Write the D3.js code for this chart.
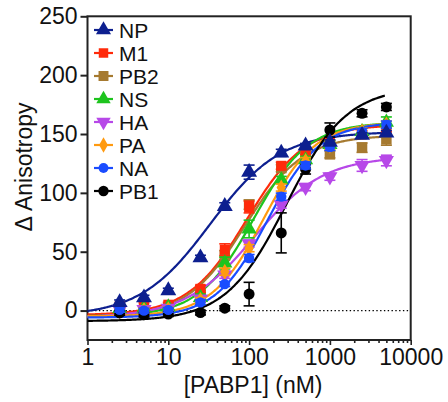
<!DOCTYPE html>
<html>
<head>
<meta charset="utf-8">
<script src="https://cdn.jsdelivr.net/npm/d3@7"></script>
<style>
  html, body { margin: 0; padding: 0; background: #fff; }
  svg { display: block; }
  text { font-family: "Liberation Sans", Arial, Helvetica, sans-serif; fill: #111; }
</style>
</head>
<body>
<svg id="chart" width="448" height="402"></svg>
<script>
// PABP1 titration (nM) and measured change in anisotropy for each RNA segment
const conc = [2.5, 5, 10, 25, 50, 100, 250, 500, 1000, 2500, 5000];

const seriesNames = ["NP", "M1", "PB2", "NS", "HA", "PA", "NA", "PB1"];

const valNP  = [7, 11, 17, 45, 88.6, 117.6, 134, 140, 143, 149, 151];
const valM1  = [3.5, 4.5, 5, 18.5, 51.7, 88, 123, 135.5, 142.6, 149.7, 155];
const valPB2 = [1, 1, 2, 14, 47, 90, 121, 131, 132.7, 138.4, 145.5];
const valNS  = [1.5, 2, 3, 11, 40.4, 69.3, 111, 128, 141, 152, 160];
const valHA  = [0.5, 1, 2, 10, 30.4, 56.8, 90, 104.8, 113.7, 123.3, 127.5];
const valPA  = [0, 0.5, 1, 9, 33, 53, 104.5, 127, 140, 152, 158];
const valNA  = [0.6, 0, 0.6, 7, 22.5, 44.6, 96.8, 123.3, 139, 151.7, 158];
const valPB1 = [-2, -3.5, -3, -1.7, 2, 14, 66, 120, 153.4, 167.6, 173];

// standard deviations
const errNP  = [2, 2, 2, 2, 3, 6, 3, 2, 2, 2, 2];
const errM1  = [2, 2, 2, 3, 5, 5, 3, 3, 2, 3, 3];
const errPB2 = [2, 2, 2, 3, 4, 4, 3, 3, 3, 4, 5];
const errNS  = [2, 2, 2, 3, 5, 7.5, 3, 3, 3, 3, 4.5];
const errHA  = [2, 2, 2, 2, 3, 3, 3, 3, 3, 5, 4.5];
const errPA  = [2, 2, 2, 2, 3, 3, 3, 3, 3, 3, 3];
const errNA  = [2, 2, 2, 2, 2, 3, 3, 3, 3, 3, 3];
const errPB1 = [2, 2, 2, 2, 2, 10, 17, 4, 6, 3, 3];

// four-parameter logistic fit: bottom, top, EC50 (nM), Hill slope
const fitBottom = [-5, -4, -6, -5, -6, -5, -6, -9];
const fitTop    = [152, 158, 149, 160, 131, 160, 160, 190];
const fitEC50   = [33, 93, 88, 113, 116, 150, 170, 290];
const fitHill   = [1.0, 1.2, 1.2, 1.28, 1.02, 1.35, 1.35, 1.16];

const xTicks = [1, 10, 100, 1000, 10000];
const yTicks = [0, 50, 100, 150, 200, 250];

const colors = {
  NP: "#0d1f8f", M1: "#ff2a0a", PB2: "#a67a30", NS: "#1ec41e",
  HA: "#b748e8", PA: "#ff9a10", NA: "#1a4cff", PB1: "#000000"
};
const shapes = {
  NP:  { type: d3.symbolTriangle, size: 110, rot: 0 },
  M1:  { type: d3.symbolSquare,   size: 100, rot: 0 },
  PB2: { type: d3.symbolSquare,   size: 110, rot: 0 },
  NS:  { type: d3.symbolTriangle, size: 100, rot: 0 },
  HA:  { type: d3.symbolTriangle, size: 100, rot: 180 },
  PA:  { type: d3.symbolDiamond,  size: 75,  rot: 0 },
  NA:  { type: d3.symbolCircle,   size: 85,  rot: 0 },
  PB1: { type: d3.symbolCircle,   size: 95,  rot: 0 }
};

const values = [valNP, valM1, valPB2, valNS, valHA, valPA, valNA, valPB1];
const errors = [errNP, errM1, errPB2, errNS, errHA, errPA, errNA, errPB1];

const series = seriesNames.map((name, i) => ({
  name,
  points: conc.map((c, j) => ({ x: c, y: values[i][j], e: errors[i][j] })),
  fit: { b: fitBottom[i], t: fitTop[i], ec: fitEC50[i], h: fitHill[i] }
}));

const svg = d3.select("#chart");
const plot = { left: 87.5, right: 410.7, top: 16.3, bottom: 340 };

const x = d3.scaleLog().domain([1, 10000]).range([plot.left, plot.right]);
const y = d3.scaleLinear().domain([-25, 250]).range([plot.bottom, plot.top]);

const axisColor = "#222";

// frame
svg.append("rect")
  .attr("x", plot.left).attr("y", plot.top)
  .attr("width", plot.right - plot.left).attr("height", plot.bottom - plot.top)
  .attr("fill", "none").attr("stroke", axisColor).attr("stroke-width", 2);

// zero baseline
svg.append("line")
  .attr("x1", plot.left).attr("x2", plot.right)
  .attr("y1", y(0)).attr("y2", y(0))
  .attr("stroke", "#000").attr("stroke-width", 1.3)
  .attr("stroke-dasharray", "1.4,2.4");

// x axis with log minor ticks
const minor = [];
for (let d = 1; d < 10000; d *= 10) for (let k = 2; k <= 9; k++) minor.push(d * k);

const gx = svg.append("g").attr("transform", `translate(0,${plot.bottom})`);
gx.call(d3.axisBottom(x).tickValues(minor).tickSize(3).tickFormat(""));
gx.append("g").call(d3.axisBottom(x).tickValues(xTicks).tickSize(5).tickPadding(4)
  .tickFormat(d3.format("d")));
gx.selectAll(".domain").remove();
gx.selectAll("line").attr("stroke", axisColor).attr("stroke-width", 1.6);
gx.selectAll("text").attr("font-size", 23).attr("fill", "#111")
  .attr("font-family", "'Liberation Sans', Arial, sans-serif");

// y axis
const gy = svg.append("g").attr("transform", `translate(${plot.left},0)`);
gy.call(d3.axisLeft(y).tickValues(yTicks).tickSize(7).tickPadding(3));
gy.selectAll(".domain").remove();
gy.selectAll("line").attr("stroke", axisColor).attr("stroke-width", 2);
gy.selectAll("text").attr("font-size", 23).attr("fill", "#111")
  .attr("font-family", "'Liberation Sans', Arial, sans-serif");

// axis titles
svg.append("text")
  .attr("x", (plot.left + plot.right) / 2 + 4).attr("y", 393)
  .attr("text-anchor", "middle").attr("font-size", 23)
  .text("[PABP1] (nM)");
svg.append("text")
  .attr("transform", `translate(31.5,${167}) rotate(-90)`)
  .attr("text-anchor", "middle").attr("font-size", 23)
  .text("Δ Anisotropy");

// fitted curves
const logistic = (f, c) => f.b + (f.t - f.b) / (1 + Math.pow(f.ec / c, f.h));
const curveX = d3.range(0, 3.699 + 1e-9, 0.02).map(l => Math.pow(10, l));
const line = d3.line().x(d => x(d.x)).y(d => y(d.y)).curve(d3.curveMonotoneX);

svg.append("g").selectAll("path").data(series).join("path")
  .attr("d", s => line(curveX.map(c => ({ x: c, y: logistic(s.fit, c) }))))
  .attr("fill", "none")
  .attr("stroke", s => colors[s.name])
  .attr("stroke-width", 2.2);

// data points with error bars, later series on top
const drawOrder = ["PB2", "M1", "NS", "HA", "PA", "PB1", "NA", "NP"];
const capW = 5.5;
drawOrder.forEach(name => {
  const s = series.find(d => d.name === name);
  const g = svg.append("g");
  const col = colors[name];
  const eb = g.selectAll("g.eb").data(s.points).join("g").attr("class", "eb")
    .attr("stroke", col).attr("stroke-width", 1.6);
  eb.append("line")
    .attr("x1", d => x(d.x)).attr("x2", d => x(d.x))
    .attr("y1", d => y(d.y - d.e)).attr("y2", d => y(d.y + d.e));
  eb.append("line")
    .attr("x1", d => x(d.x) - capW).attr("x2", d => x(d.x) + capW)
    .attr("y1", d => y(d.y + d.e)).attr("y2", d => y(d.y + d.e));
  eb.append("line")
    .attr("x1", d => x(d.x) - capW).attr("x2", d => x(d.x) + capW)
    .attr("y1", d => y(d.y - d.e)).attr("y2", d => y(d.y - d.e));
  const sh = shapes[name];
  g.selectAll("path").data(s.points).join("path")
    .attr("d", d3.symbol().type(sh.type).size(sh.size))
    .attr("transform", d => `translate(${x(d.x)},${y(d.y)}) rotate(${sh.rot})`)
    .attr("fill", col);
});

// legend
const legend = svg.append("g");
const rowH = 23;
seriesNames.forEach((name, i) => {
  const row = legend.append("g").attr("transform", `translate(0,${30 + i * rowH})`);
  row.append("line").attr("x1", 94).attr("x2", 113).attr("y1", 0).attr("y2", 0)
    .attr("stroke", colors[name]).attr("stroke-width", 2.2);
  const sh = shapes[name];
  row.append("path")
    .attr("d", d3.symbol().type(sh.type).size(sh.size * 0.9))
    .attr("transform", `translate(103.5,0) rotate(${sh.rot})`)
    .attr("fill", colors[name]);
  row.append("text").attr("x", 119).attr("y", 0).attr("dy", "0.36em")
    .attr("font-size", 21).text(name);
});
</script>
</body>
</html>
